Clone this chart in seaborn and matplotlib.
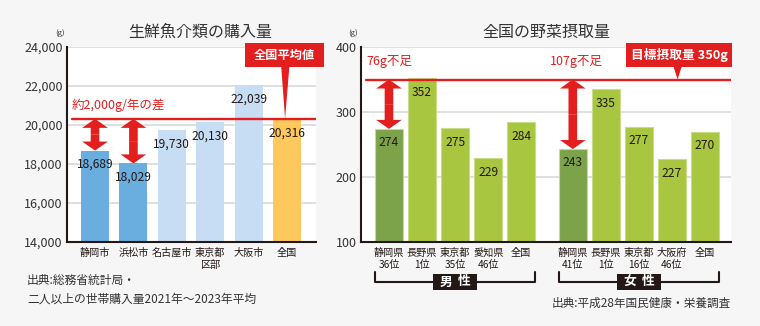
import numpy as np
import pandas as pd
import matplotlib
matplotlib.use("Agg")
import matplotlib.pyplot as plt
import seaborn as sns
from matplotlib.patches import Rectangle, Polygon
from matplotlib.lines import Line2D
from matplotlib.ticker import FuncFormatter

# ---------------- data ----------------
fish_title = "生鮮魚介類の購入量"
fish_cities = ["静岡市", "浜松市", "名古屋市", "東京都\n区部", "大阪市", "全国"]
fish_values = [18689, 18029, 19730, 20130, 22039, 20316]
fish_avg = 20316
fish_avg_label = "全国平均値"
fish_diff_label = "約2,000g/年の差"
fish_yticks = [14000, 16000, 18000, 20000, 22000, 24000]
fish_source = "出典:総務省統計局・\n二人以上の世帯購入量2021年〜2023年平均"

veg_title = "全国の野菜摂取量"
veg_male_labels = ["静岡県\n36位", "長野県\n1位", "東京都\n35位", "愛知県\n46位", "全国"]
veg_male_values = [274, 352, 275, 229, 284]
veg_female_labels = ["静岡県\n41位", "長野県\n1位", "東京都\n16位", "大阪府\n46位", "全国"]
veg_female_values = [243, 335, 277, 227, 270]
veg_target = 350
veg_target_label = "目標摂取量 350g"
veg_male_short = "76g不足"
veg_female_short = "107g不足"
veg_groups = [("男", "性"), ("女", "性")]
veg_yticks = [100, 200, 300, 400]
veg_source = "出典:平成28年国民健康・栄養調査"

# ---------------- style ----------------
BG = "#f6f6f6"
RED = "#e21e1e"
DARK = "#231815"
TXT = "#333333"
GRID = "#d9d9d9"
BLUE_D = "#6aaddf"
BLUE_L = "#c6ddf3"
ORANGE = "#fec85c"
GREEN_D = "#7ca24a"
GREEN = "#a8c63f"

sns.set_style("white")
plt.rcParams["font.family"] = ["Noto Sans CJK JP", "DejaVu Sans"]

W, H = 760, 326
fig = plt.figure(figsize=(W / 100, H / 100), dpi=100, facecolor=BG)


def fx(px):
    return px / W


def fy(py):
    return 1 - py / H


axL = fig.add_axes([fx(67), fy(242), 249 / W, 195 / H])
axR = fig.add_axes([fx(361), fy(242), 370 / W, 195 / H])

# ---------------- left chart ----------------
fish_colors = [BLUE_D, BLUE_D, BLUE_L, BLUE_L, BLUE_L, ORANGE]
dfL = pd.DataFrame({"city": fish_cities, "value": fish_values})
sns.barplot(data=dfL, x="city", y="value", hue="city", order=fish_cities,
            palette=dict(zip(fish_cities, fish_colors)), width=28 / 38.4,
            saturation=1, legend=False, dodge=False, linewidth=0, ax=axL)
axL.set_xlim(-0.73, 5.755)
axL.set_ylim(fish_yticks[0], fish_yticks[-1])
axL.set_yticks(fish_yticks)
axL.yaxis.set_major_formatter(FuncFormatter(lambda v, p: f"{int(v):,}"))

# ---------------- right chart ----------------
n = len(veg_male_values)
gap = 1.56
pos_m = list(np.arange(n, dtype=float))
pos_f = [p + n - 1 + gap for p in pos_m]
positions = pos_m + pos_f
veg_values = veg_male_values + veg_female_values
veg_labels = veg_male_labels + veg_female_labels
ids = [f"b{i}" for i in range(len(positions))]
veg_colors = [GREEN_D] + [GREEN] * (n - 1) + [GREEN_D] + [GREEN] * (n - 1)
dfR = pd.DataFrame({"pos": positions, "value": veg_values, "id": ids})
sns.barplot(data=dfR, x="pos", y="value", hue="id", hue_order=ids,
            palette=dict(zip(ids, veg_colors)), native_scale=True,
            width=28 / 33.1, saturation=1, legend=False, dodge=False,
            linewidth=0.8, edgecolor="#c8dc8a", ax=axR)
axR.set_xlim(-0.846, positions[-1] + 0.785)
axR.set_ylim(veg_yticks[0], veg_yticks[-1])
axR.set_yticks(veg_yticks)
axR.set_xticks(positions)
axR.set_xticklabels(veg_labels)

# ---------------- common axes styling ----------------
for ax in (axL, axR):
    ax.set_facecolor("white")
    ax.set_xlabel("")
    ax.set_ylabel("")
    for s in ("top", "right"):
        ax.spines[s].set_visible(False)
    for s in ("left", "bottom"):
        ax.spines[s].set_color(DARK)
        ax.spines[s].set_linewidth(1.5)
    ax.grid(axis="y", color=GRID, linewidth=1.2)
    ax.grid(axis="x", visible=False)
    ax.set_axisbelow(True)
    ax.tick_params(axis="y", length=0, pad=3, labelsize=9, labelcolor=TXT)
    ax.tick_params(axis="x", length=0, pad=4, labelsize=7.3, labelcolor=DARK)
    for lab in ax.get_xticklabels():
        lab.set_linespacing(1.3)


def value_labels(ax, xs, vals, fmt):
    for x, v in zip(xs, vals):
        ax.annotate(fmt(v), xy=(x, v), xytext=(0, -10), textcoords="offset points",
                    ha="center", va="center", fontsize=8.7, color=DARK)


value_labels(axL, range(len(fish_values)), fish_values, lambda v: f"{v:,}")
value_labels(axR, positions, veg_values, lambda v: f"{v}")


def double_arrow(ax, x, y0, y1):
    mid = (y0 + y1) / 2
    style = "simple,head_width=1.85,head_length=0.65,tail_width=0.62"
    for end in (y0, y1):
        ax.annotate("", xy=(x, end), xytext=(x, mid),
                    arrowprops=dict(arrowstyle=style, color=RED, lw=0,
                                    shrinkA=0, shrinkB=0, mutation_scale=10))


# left reference line, arrows, annotations
axL.axhline(fish_avg, xmin=5 / 249, xmax=1, color=RED, lw=1.7, zorder=4)
for i in (0, 1):
    double_arrow(axL, i, fish_avg, fish_values[i])
axL.annotate(fish_diff_label, xy=(5 / 249, fish_avg), xycoords=("axes fraction", "data"),
             xytext=(0, 10), textcoords="offset points", ha="left", va="center",
             fontsize=9, color=RED)
# callout box 全国平均値
trL = axL.get_xaxis_transform()
bx0, bx1 = 3.906, 5.964
by0, by1 = (242 - 67) / 195, (242 - 43) / 195
axL.add_patch(Rectangle((bx0, by0), bx1 - bx0, by1 - by0, transform=trL,
                        facecolor=RED, edgecolor="none", clip_on=False, zorder=5))
axL.text((bx0 + bx1) / 2, (by0 + by1) / 2, fish_avg_label, transform=trL,
         ha="center", va="center", fontsize=8.8, color="white", fontweight="bold",
         zorder=6, clip_on=False)
ptr_top = axL.transData.inverted().transform(trL.transform((0, by0)))[1]
axL.add_patch(Polygon([(4.85, ptr_top), (5.06, ptr_top), (4.95, fish_avg)],
                      closed=True, facecolor=RED, edgecolor="none", zorder=5,
                      clip_on=False))

# right reference line, arrows, annotations
axR.axhline(veg_target, xmin=5 / 370, xmax=1, color=RED, lw=1.7, zorder=4)
for p, v in ((pos_m[0], veg_male_values[0]), (pos_f[0], veg_female_values[0])):
    double_arrow(axR, p, veg_target, v)
for p, t in ((pos_m[0], veg_male_short), (pos_f[0] + 0.1, veg_female_short)):
    axR.annotate(t, xy=(p, veg_target), xytext=(0, 13), textcoords="offset points",
                 ha="center", va="center", fontsize=9, color=RED)
trR = axR.get_xaxis_transform()
rx0, rx1 = 7.16, 10.39
ry0, ry1 = (242 - 67) / 195, (242 - 43) / 195
axR.add_patch(Rectangle((rx0, ry0), rx1 - rx0, ry1 - ry0, transform=trR,
                        facecolor=RED, edgecolor="none", clip_on=False, zorder=5))
axR.text((rx0 + rx1) / 2, (ry0 + ry1) / 2, veg_target_label, transform=trR,
         ha="center", va="center", fontsize=9.2, color="white", fontweight="bold",
         zorder=6, clip_on=False)
rptr_top = axR.transData.inverted().transform(trR.transform((0, ry0)))[1]
axR.add_patch(Polygon([(8.61, rptr_top), (8.85, rptr_top), (8.73, veg_target)],
                      closed=True, facecolor=RED, edgecolor="none", zorder=5,
                      clip_on=False))

# group brackets
half = 28 / 33.1 / 2
y_tick_top = (242 - 272) / 195
y_line = (242 - 282) / 195
for grp, (c1, c2) in ((pos_m, veg_groups[0]), (pos_f, veg_groups[1])):
    x0, x1 = grp[0] - half, grp[-1] + half
    axR.add_line(Line2D([x0, x0, x1, x1], [y_tick_top, y_line, y_line, y_tick_top],
                        transform=trR, color=DARK, lw=1.5, clip_on=False))
    cx = (x0 + x1) / 2
    bw = 44 / 33.1
    b0, b1 = (242 - 290) / 195, (242 - 274) / 195
    axR.add_patch(Rectangle((cx - bw / 2, b0), bw, b1 - b0, transform=trR,
                            facecolor=DARK, edgecolor="none", clip_on=False, zorder=5))
    dx = 9 / 33.1
    for ch, xx in ((c1, cx - dx), (c2, cx + dx)):
        axR.text(xx, (b0 + b1) / 2, ch, transform=trR, ha="center", va="center",
                 fontsize=9.2, color="white", fontweight="bold", zorder=6,
                 clip_on=False)

# ---------------- figure texts ----------------
fig.text(fx(200), fy(32), fish_title, ha="center", va="center", fontsize=11.5, color=TXT)
fig.text(fx(546), fy(32), veg_title, ha="center", va="center", fontsize=11.5, color=TXT)
fig.text(fx(60), fy(33), "(g)", ha="center", va="center", fontsize=5.5, color=TXT)
fig.text(fx(353), fy(33), "(g)", ha="center", va="center", fontsize=5.5, color=TXT)
fig.text(fx(27), fy(289.5), fish_source, ha="left", va="center", fontsize=8.5,
         color=TXT, linespacing=1.55)
fig.text(fx(731), fy(303), veg_source, ha="right", va="center", fontsize=8.4, color=TXT)

fig.savefig("out.png", dpi=100, facecolor=BG)
